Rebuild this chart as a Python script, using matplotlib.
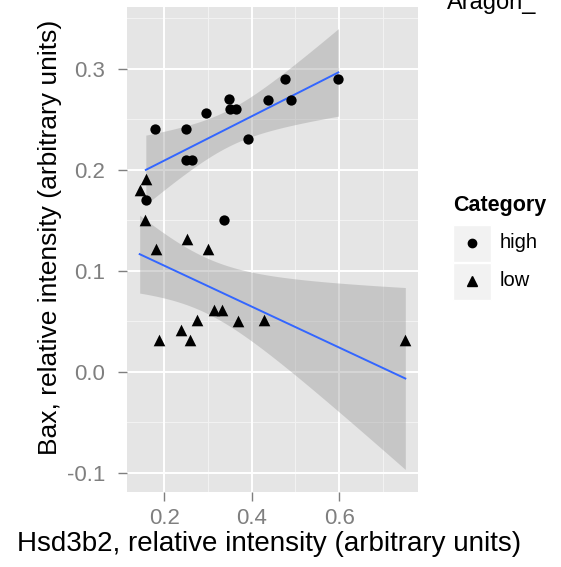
import numpy as np
import matplotlib
matplotlib.use("Agg")
import matplotlib.pyplot as plt
from matplotlib.lines import Line2D
from matplotlib.patches import Rectangle

plt.rcParams['font.family'] = ['Liberation Sans', 'DejaVu Sans']

# ---- data ----
high_x = [0.158, 0.178, 0.25, 0.25, 0.263, 0.296, 0.336, 0.347, 0.35, 0.365,
          0.391, 0.438, 0.475, 0.49, 0.598]
high_y = [0.17, 0.24, 0.24, 0.21, 0.21, 0.256, 0.15, 0.27, 0.26, 0.26,
          0.23, 0.269, 0.29, 0.269, 0.29]
low_x = [0.144, 0.157, 0.159, 0.182, 0.189, 0.239, 0.252, 0.258, 0.275, 0.301,
         0.313, 0.332, 0.368, 0.429, 0.751]
low_y = [0.18, 0.15, 0.191, 0.121, 0.031, 0.041, 0.131, 0.031, 0.051, 0.121,
         0.061, 0.061, 0.05, 0.051, 0.031]
categories = ["high", "low"]
x_ticks = [0.2, 0.4, 0.6]
y_ticks = [-0.1, 0.0, 0.1, 0.2, 0.3]
T975 = 2.160  # t quantile, df = 13

W, H = 561, 567
fig = plt.figure(figsize=(W / 100, H / 100), dpi=100)
fig.patch.set_facecolor('white')
AX_L, AX_R, AX_T, AX_B = 127, 418, 7, 492
ax = fig.add_axes([AX_L / W, 1 - AX_B / H, (AX_R - AX_L) / W, (AX_B - AX_T) / H])
ax.set_facecolor('#E5E5E5')
ax.set_xlim(0.115, 0.78)
ax.set_ylim(-0.119, 0.361)

for v in [0.1, 0.3, 0.5, 0.7]:
    ax.axvline(v, color='#F2F2F2', lw=0.8, zorder=0.5)
for v in [-0.05, 0.05, 0.15, 0.25, 0.35]:
    ax.axhline(v, color='#F2F2F2', lw=0.8, zorder=0.5)
for v in x_ticks:
    ax.axvline(v, color='white', lw=1.4, zorder=0.6)
for v in y_ticks:
    ax.axhline(v, color='white', lw=1.4, zorder=0.6)


def fit(xs, ys):
    xs = np.asarray(xs); ys = np.asarray(ys)
    n = len(xs)
    b, a = np.polyfit(xs, ys, 1)
    resid = ys - (a + b * xs)
    s = np.sqrt(np.sum(resid ** 2) / (n - 2))
    xg = np.linspace(xs.min(), xs.max(), 80)
    yg = a + b * xg
    se = s * np.sqrt(1 / n + (xg - xs.mean()) ** 2 / np.sum((xs - xs.mean()) ** 2))
    return xg, yg, yg - T975 * se, yg + T975 * se


for xs, ys in [(high_x, high_y), (low_x, low_y)]:
    xg, yg, lo, hi = fit(xs, ys)
    ax.fill_between(xg, lo, hi, color='#999999', alpha=0.4, lw=0, zorder=1)
    ax.plot(xg, yg, color='#3366FF', lw=1.4, zorder=2)

ax.scatter(high_x, high_y, marker='o', s=55, color='black', lw=0, zorder=3)
ax.scatter(low_x, low_y, marker='^', s=70, color='black', lw=0, zorder=3)

for sp in ax.spines.values():
    sp.set_visible(False)
ax.set_xticks(x_ticks)
ax.set_xticklabels([f"{v:.1f}" for v in x_ticks])
ax.set_yticks(y_ticks)
ax.set_yticklabels([f"{v:.1f}" for v in y_ticks])
ax.tick_params(axis='both', colors='#7F7F7F', labelcolor='#7F7F7F',
               length=6.5, width=1)
ax.tick_params(axis='x', labelsize=16, pad=5)
ax.tick_params(axis='y', labelsize=16, pad=9)

ax.set_xlabel("Hsd3b2, relative intensity (arbitrary units)", fontsize=20,
              color='black')
ax.xaxis.label.set_va('baseline')
ax.xaxis.set_label_coords((269 - AX_L) / (AX_R - AX_L),
                          (AX_B - 551) / (AX_B - AX_T))
ax.set_ylabel("Bax, relative intensity (arbitrary units)", fontsize=19,
              color='black')
ax.yaxis.label.set_va('baseline')
ax.yaxis.set_label_coords((57 - AX_L) / (AX_R - AX_L),
                          (AX_B - 237) / (AX_B - AX_T))

# legend (drawn manually in figure pixels)
def fx(px):
    return px / W


def fy(py):
    return 1 - py / H

fig.text(fx(453), fy(206), "Category", fontsize=15.5, fontweight='bold',
         va='center', ha='left')
for i, (cat, mk) in enumerate(zip(categories, ['o', '^'])):
    y0 = 225 + i * 38
    fig.add_artist(Rectangle((fx(453), fy(y0 + 37)), 38 / W, 37 / H,
                             transform=fig.transFigure, facecolor='#F2F2F2',
                             edgecolor='white', lw=1))
    fig.add_artist(Line2D([fx(472)], [fy(y0 + 18)], marker=mk, color='black',
                          markersize=6 if mk == 'o' else 7, lw=0,
                          transform=fig.transFigure))
    fig.text(fx(500), fy(y0 + 18), cat, fontsize=14.5, va='center', ha='left')

fig.text(fx(447), fy(9), "Aragon_", fontsize=17, va='baseline', ha='left')

fig.savefig("out.png", dpi=100)
